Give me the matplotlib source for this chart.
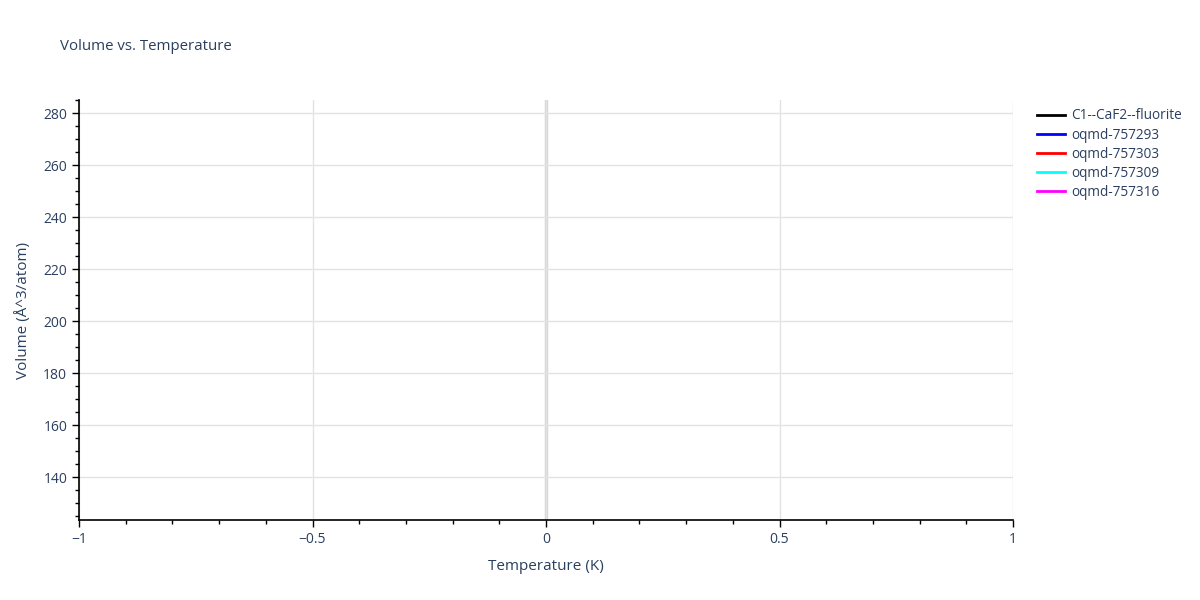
import matplotlib
matplotlib.use("Agg")
import matplotlib.pyplot as plt
from matplotlib.ticker import MultipleLocator

plt.rcParams['font.family'] = ['Open Sans', 'DejaVu Sans']

# Data: every series has only a single point at T = 0 K, so no line is drawn
series_names = ["C1--CaF2--fluorite", "oqmd-757293", "oqmd-757303",
                "oqmd-757309", "oqmd-757316"]
series_colors = ["black", "blue", "red", "cyan", "magenta"]
temperatures = [[0], [0], [0], [0], [0]]
volumes = [[131.0], [277.0], [160.0], [200.0], [240.0]]

x_range = (-1, 1)
y_range = (123.5, 285)

text_color = "#2a3f5f"
grid_color = "#e3e3e3"

fig = plt.figure(figsize=(12, 6), dpi=100)
ax = fig.add_axes([79 / 1200, 1 - 520 / 600, (1013 - 79) / 1200, 420 / 600])

for name, color, t, v in zip(series_names, series_colors, temperatures, volumes):
    ax.plot(t, v, color=color, lw=2, label=name)

ax.set_xlim(*x_range)
ax.set_ylim(*y_range)

ax.xaxis.set_minor_locator(MultipleLocator(0.1))
ax.yaxis.set_major_locator(MultipleLocator(20))
ax.yaxis.set_minor_locator(MultipleLocator(5))

ax.set_xticks([-1, -0.5, 0, 0.5, 1])
ax.set_xticklabels(["\u22121", "\u22120.5", "0", "0.5", "1"])

ax.grid(True, which="major", color=grid_color, lw=1, zorder=0)
ax.axvline(0, color="#d6d6d6", lw=2.5, zorder=0.5)
ax.set_axisbelow(True)

for side in ["top", "right"]:
    ax.spines[side].set_visible(False)
for side in ["left", "bottom"]:
    ax.spines[side].set_color("black")
    ax.spines[side].set_linewidth(1.2)

ax.tick_params(which="major", length=5, width=1, color="black",
               labelsize=10, labelcolor=text_color, direction="out")
ax.tick_params(which="minor", length=3, width=1, color="black", direction="out")

ax.set_xlabel("Temperature (K)", fontsize=11, color=text_color, labelpad=9)
ax.set_ylabel("Volume (Å^3/atom)", fontsize=11, color=text_color, labelpad=9)

fig.text(60 / 1200, 1 - 46 / 600, "Volume vs. Temperature", fontsize=10.8,
         color=text_color, va="center", ha="left")

fig.legend(loc="upper left", bbox_to_anchor=(1032 / 1200, 1 - 103 / 600),
           frameon=False, fontsize=9.8, handlelength=2.0, handletextpad=0.45,
           labelspacing=0.3, labelcolor=text_color, borderaxespad=0)

fig.savefig("out.png", dpi=100)
